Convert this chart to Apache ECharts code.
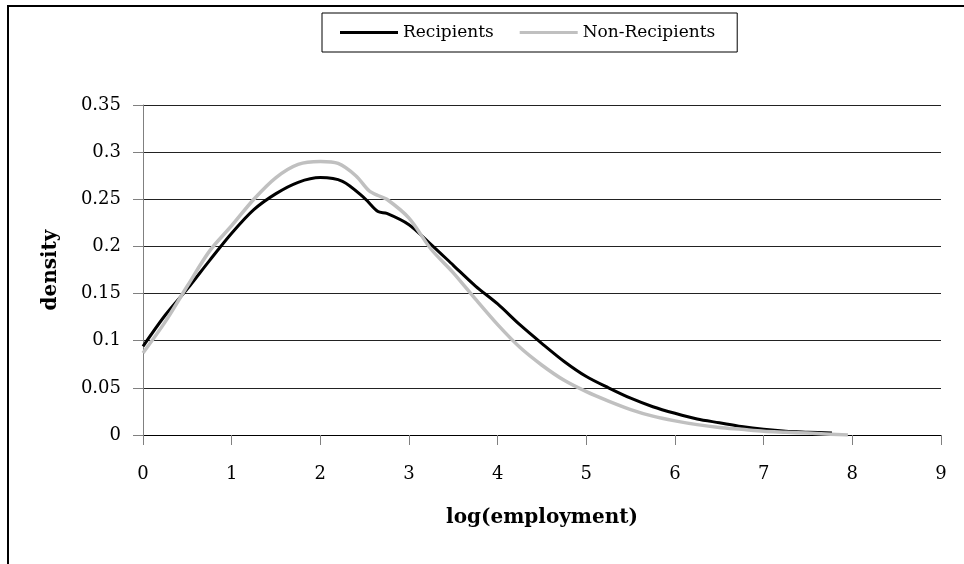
<!DOCTYPE html>
<html>
<head>
<meta charset="utf-8">
<script src="https://cdn.jsdelivr.net/npm/echarts@6/dist/echarts.min.js"></script>
<style>
  html, body { margin: 0; padding: 0; background: #fff; }
  #chart { width: 964px; height: 564px; }
</style>
</head>
<body>
<div id="chart"></div>
<script>
// density curves
var recipientsX = [0, 0.25, 0.5, 0.75, 1, 1.25, 1.5, 1.75, 2, 2.25, 2.5, 2.65, 2.75, 3, 3.25, 3.5, 3.75, 4, 4.25, 4.5, 4.75, 5, 5.25, 5.5, 5.75, 6, 6.25, 6.5, 6.75, 7, 7.25, 7.5, 7.77];
var recipientsY = [0.094, 0.127, 0.155, 0.185, 0.214, 0.239, 0.256, 0.268, 0.273, 0.269, 0.251, 0.237, 0.235, 0.223, 0.202, 0.18, 0.158, 0.139, 0.117, 0.097, 0.078, 0.062, 0.05, 0.039, 0.03, 0.023, 0.017, 0.013, 0.009, 0.006, 0.004, 0.003, 0.002];

var nonRecipientsX = [0, 0.25, 0.5, 0.75, 1, 1.25, 1.5, 1.75, 2, 2.2, 2.4, 2.55, 2.65, 2.75, 3, 3.25, 3.5, 3.75, 4, 4.25, 4.5, 4.75, 5, 5.25, 5.5, 5.75, 6, 6.25, 6.5, 6.75, 7, 7.25, 7.5, 7.95];
var nonRecipientsY = [0.087, 0.12, 0.158, 0.195, 0.222, 0.25, 0.273, 0.287, 0.29, 0.288, 0.275, 0.259, 0.254, 0.25, 0.23, 0.197, 0.172, 0.144, 0.117, 0.093, 0.074, 0.058, 0.046, 0.036, 0.027, 0.02, 0.015, 0.011, 0.008, 0.006, 0.004, 0.003, 0.002, 0];

var seriesNames = ['Recipients', 'Non-Recipients'];
var xTicks = [0, 9, 1];       // min, max, interval
var yTicks = [0, 0.35, 0.05];

function pairs(xs, ys) {
    return xs.map(function (x, i) { return [x, ys[i]]; });
}

var chart = echarts.init(document.getElementById('chart'));
var font = '"DejaVu Serif", "Liberation Serif", serif';

chart.setOption({
    backgroundColor: '#fff',
    animation: false,
    textStyle: { fontFamily: font, color: '#000' },
    graphic: [{
        // outer frame, only top and left edges show
        type: 'rect',
        shape: { x: 8, y: 6, width: 1200, height: 1200 },
        style: { fill: 'none', stroke: '#000', lineWidth: 2 }
    }],
    legend: {
        data: seriesNames,
        icon: 'rect',
        left: 322,
        top: 13,
        padding: [11, 22, 11, 18],
        borderColor: '#000',
        borderWidth: 1,
        itemWidth: 58,
        itemHeight: 3,
        itemGap: 26,
        textStyle: { fontFamily: font, fontSize: 17, color: '#000' }
    },
    grid: { left: 143, right: 23, top: 105, bottom: 129 },
    xAxis: {
        type: 'value',
        min: xTicks[0],
        max: xTicks[1],
        interval: xTicks[2],
        name: 'log(employment)',
        nameLocation: 'middle',
        nameGap: 73,
        nameTextStyle: { fontFamily: font, fontSize: 20, fontWeight: 'bold', color: '#000' },
        axisLine: { lineStyle: { color: '#000', width: 1 } },
        axisTick: { show: true, inside: false, length: 10, lineStyle: { color: '#808080' } },
        axisLabel: { margin: 30, fontSize: 18, color: '#000', fontFamily: font },
        splitLine: { show: false }
    },
    yAxis: {
        type: 'value',
        min: yTicks[0],
        max: yTicks[1],
        interval: yTicks[2],
        name: 'density',
        nameLocation: 'middle',
        nameGap: 82,
        nameRotate: 90,
        nameTextStyle: { fontFamily: font, fontSize: 20, fontWeight: 'bold', color: '#000' },
        axisLine: { show: true, lineStyle: { color: '#808080', width: 1 } },
        axisTick: { show: true, inside: false, length: 10, lineStyle: { color: '#808080' } },
        axisLabel: { margin: 22, fontSize: 18, color: '#000', fontFamily: font },
        splitLine: { show: true, lineStyle: { color: '#222', width: 1 } }
    },
    series: [
        {
            name: seriesNames[0],
            type: 'line',
            data: pairs(recipientsX, recipientsY),
            smooth: 0.3,
            symbol: 'none',
            lineStyle: { color: '#000', width: 3 },
            itemStyle: { color: '#000' }
        },
        {
            name: seriesNames[1],
            type: 'line',
            data: pairs(nonRecipientsX, nonRecipientsY),
            smooth: 0.3,
            symbol: 'none',
            lineStyle: { color: '#c0c0c0', width: 3.5 },
            itemStyle: { color: '#c0c0c0' }
        }
    ]
});
</script>
</body>
</html>
